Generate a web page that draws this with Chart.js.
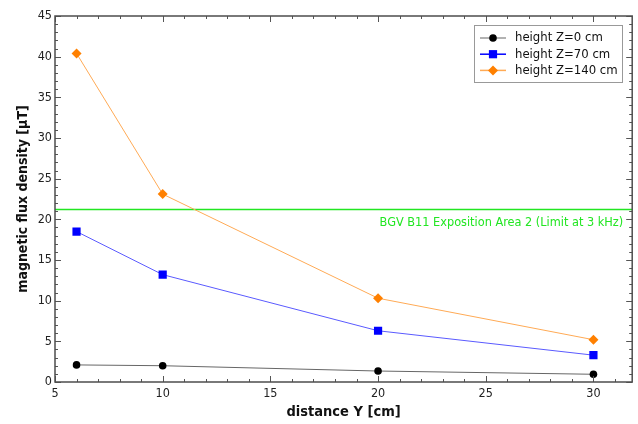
<!DOCTYPE html>
<html>
<head>
<meta charset="utf-8">
<script src="https://cdn.jsdelivr.net/npm/chart.js@4/dist/chart.umd.min.js"></script>
<style>
  body { margin: 0; background: #fff; }
  #wrap { width: 638px; height: 424px; }
</style>
</head>
<body>
<div id="wrap"><canvas id="chart" width="638" height="424"></canvas></div>
<script>
// distances Y [cm]
const distances = [6, 10, 20, 30];
// magnetic flux density [µT] per height
const fluxZ0 = [2.1, 2.0, 1.35, 0.95];
const fluxZ70 = [18.5, 13.2, 6.3, 3.3];
const fluxZ140 = [40.4, 23.1, 10.3, 5.2];
const seriesNames = ['height Z=0 cm', 'height Z=70 cm', 'height Z=140 cm'];
// exposure limit line
const limitValue = 21.2;
const limitLabel = 'BGV B11 Exposition Area 2 (Limit at 3 kHz)';
// axes
const xRange = [5, 31.8];
const yRange = [0, 45];
const xTicks = [5, 10, 15, 20, 25, 30];
const yTicks = [0, 5, 10, 15, 20, 25, 30, 35, 40, 45];

const toPoints = vals => vals.map((v, i) => ({ x: distances[i], y: v }));

const FONT = 'DejaVu Sans Condensed, DejaVu Sans, sans-serif';
const GREEN = '#22e622';

// frame, inward ticks, limit label and legend
const decorations = {
  id: 'decorations',
  afterDatasetsDraw(chart) {
    const { ctx, chartArea: a, scales: { x, y } } = chart;
    ctx.save();

    // limit label
    ctx.fillStyle = GREEN;
    ctx.font = '12.6px ' + FONT;
    ctx.textAlign = 'right';
    ctx.textBaseline = 'middle';
    ctx.fillText(limitLabel, a.right - 9, y.getPixelForValue(limitValue) + 13);

    // ticks
    ctx.strokeStyle = '#555';
    ctx.lineWidth = 1;
    ctx.beginPath();
    for (let v = Math.ceil(xRange[0]); v <= xRange[1]; v++) {
      const px = Math.round(x.getPixelForValue(v)) + 0.5;
      const len = v % 5 === 0 ? 6 : 3;
      ctx.moveTo(px, a.bottom); ctx.lineTo(px, a.bottom - len);
      ctx.moveTo(px, a.top); ctx.lineTo(px, a.top + len);
    }
    for (let v = yRange[0]; v <= yRange[1]; v++) {
      const py = Math.round(y.getPixelForValue(v)) + 0.5;
      const len = v % 5 === 0 ? 6 : 3;
      ctx.moveTo(a.left, py); ctx.lineTo(a.left + len, py);
      ctx.moveTo(a.right, py); ctx.lineTo(a.right - len, py);
    }
    ctx.stroke();

    // frame
    ctx.strokeStyle = '#4d4d4d';
    ctx.lineWidth = 1.5;
    ctx.strokeRect(a.left, a.top, a.right - a.left, a.bottom - a.top);

    // legend
    const lx = 474, ly = 25, lw = 148, lh = 57;
    ctx.fillStyle = '#fff';
    ctx.fillRect(lx, ly, lw, lh);
    ctx.strokeStyle = '#999';
    ctx.lineWidth = 1;
    ctx.strokeRect(lx + 0.5, ly + 0.5, lw, lh);
    ctx.font = '13px ' + FONT;
    ctx.textAlign = 'left';
    ctx.textBaseline = 'middle';
    chart.data.datasets.slice(0, 3).forEach((ds, i) => {
      const cy = 38 + i * 16.2;
      ctx.strokeStyle = ds.legendLine;
      ctx.lineWidth = 1.5;
      ctx.beginPath();
      ctx.moveTo(480, cy); ctx.lineTo(506, cy);
      ctx.stroke();
      ctx.fillStyle = ds.pointBackgroundColor;
      Chart.helpers.drawPoint(ctx, {
        pointStyle: ds.pointStyle, radius: ds.pointRadius, rotation: 0, borderWidth: 0
      }, 493, cy);
      ctx.fillStyle = '#111';
      ctx.fillText(ds.label, 515, cy);
    });
    ctx.restore();
  }
};

new Chart(document.getElementById('chart'), {
  type: 'scatter',
  data: {
    datasets: [
      {
        label: seriesNames[0], data: toPoints(fluxZ0), showLine: true,
        borderColor: '#666', borderWidth: 1, legendLine: '#999',
        pointStyle: 'circle', pointRadius: 3.8,
        pointBackgroundColor: '#000', pointBorderColor: '#000', pointBorderWidth: 0
      },
      {
        label: seriesNames[1], data: toPoints(fluxZ70), showLine: true,
        borderColor: '#5a5aff', borderWidth: 1, legendLine: '#0000ff',
        pointStyle: 'rect', pointRadius: 5.8,
        pointBackgroundColor: '#0000ff', pointBorderColor: '#0000ff', pointBorderWidth: 0
      },
      {
        label: seriesNames[2], data: toPoints(fluxZ140), showLine: true,
        borderColor: '#ffaa55', borderWidth: 1, legendLine: '#ffaa55',
        pointStyle: 'rectRot', pointRadius: 5,
        pointBackgroundColor: '#ff8000', pointBorderColor: '#ff8000', pointBorderWidth: 0
      },
      {
        label: 'limit', data: [{ x: xRange[0], y: limitValue }, { x: xRange[1], y: limitValue }],
        showLine: true, borderColor: GREEN, borderWidth: 1.4, pointRadius: 0
      }
    ]
  },
  options: {
    responsive: false,
    animation: false,
    layout: { padding: { top: 16, right: 2, left: 0, bottom: 0 } },
    plugins: { legend: { display: false }, tooltip: { enabled: false } },
    scales: {
      x: {
        type: 'linear', min: xRange[0], max: xRange[1],
        afterBuildTicks: s => { s.ticks = xTicks.map(v => ({ value: v })); },
        afterFit: s => { s.height = 42; },
        grid: { display: false, drawTicks: false },
        border: { display: false },
        ticks: { color: '#222', padding: 4, font: { family: FONT, size: 12.5 } },
        title: {
          display: true, text: 'distance Y [cm]', color: '#111',
          padding: { top: 0, bottom: 3 },
          font: { family: FONT, size: 14.5, weight: 'bold' }
        }
      },
      y: {
        type: 'linear', min: yRange[0], max: yRange[1],
        afterBuildTicks: s => { s.ticks = yTicks.map(v => ({ value: v })); },
        afterFit: s => { s.width = 55; },
        grid: { display: false, drawTicks: false },
        border: { display: false },
        ticks: { color: '#222', padding: 3, font: { family: FONT, size: 12.5 } },
        title: {
          display: true, text: 'magnetic flux density [µT]', color: '#111',
          padding: { top: 15, bottom: 0 },
          font: { family: FONT, size: 14, weight: 'bold' }
        }
      }
    }
  },
  plugins: [decorations]
});
</script>
</body>
</html>
